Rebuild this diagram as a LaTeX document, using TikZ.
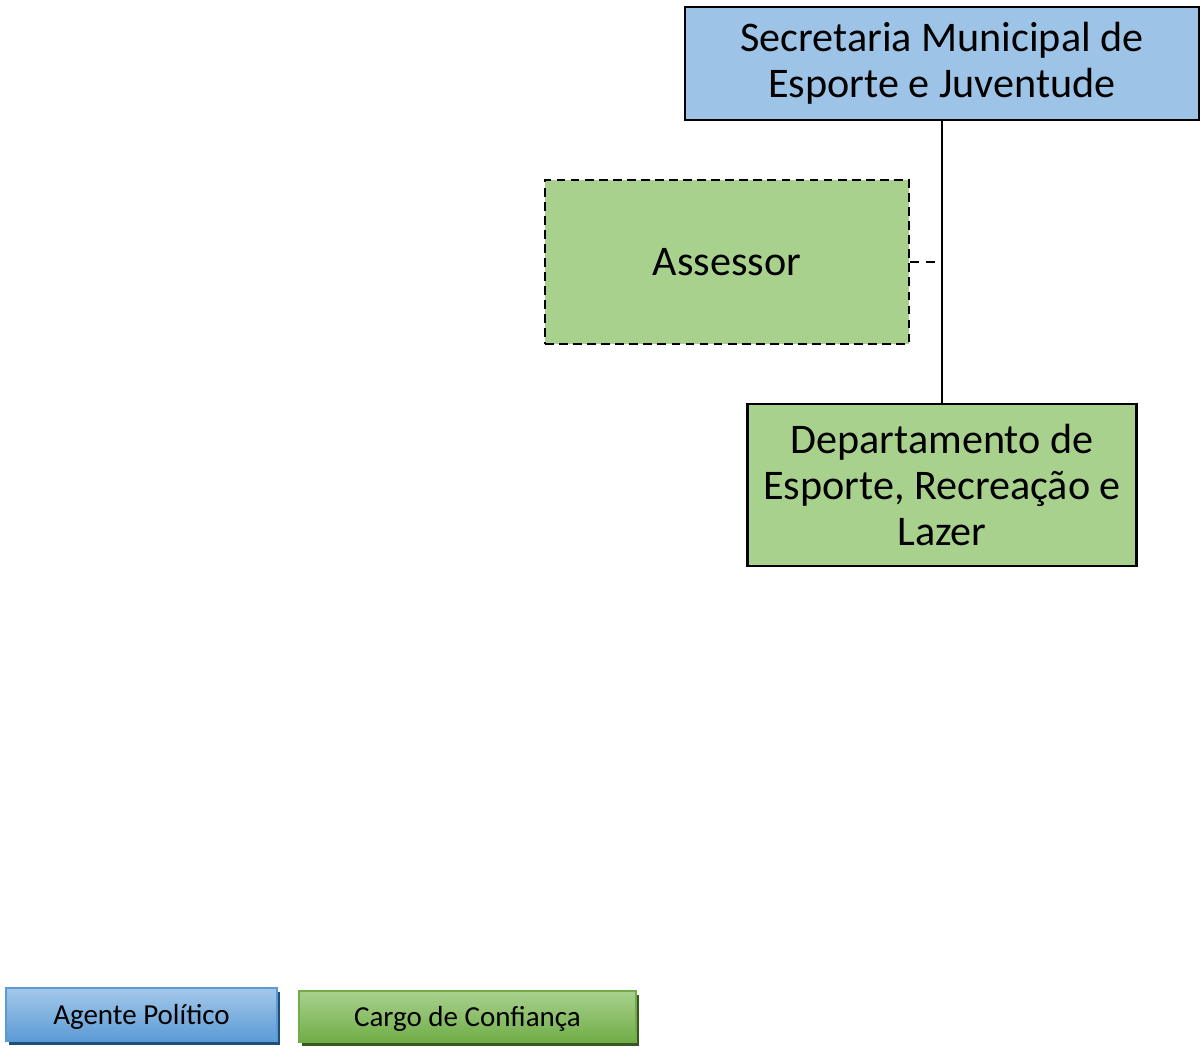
\documentclass[tikz,border=0pt]{standalone}
\usepackage{fontspec}
\setmainfont{Carlito}
\usepackage{tikz}
\usetikzlibrary{positioning, shadows}
\definecolor{secblue}{HTML}{9DC3E6}
\definecolor{depgreen}{HTML}{A9D18E}
\definecolor{legbluetop}{HTML}{A4C8EA}
\definecolor{legbluebot}{HTML}{5B9BD5}
\definecolor{legblueline}{HTML}{5B9BD5}
\definecolor{legblueshadow}{HTML}{1F4E79}
\definecolor{leggreentop}{HTML}{A9D18E}
\definecolor{leggreenbot}{HTML}{70AD47}
\definecolor{leggreenline}{HTML}{70AD47}
\definecolor{leggreenshadow}{HTML}{385723}

\begin{document}
\begin{tikzpicture}[every node/.style={font=\fontsize{24}{26}\selectfont}]
  \tikzstyle{cargo} = [rectangle, text centered, align=center, draw=black, line width=1.25pt]
  \tikzstyle{legenda} = [rectangle, text centered, line width=1pt, text depth=0pt, font=\fontsize{16.5}{19}\selectfont]
  \tikzstyle{linha} = [line width=1.25pt]

  \useasboundingbox (0,0) rectangle (24.04,-20.96);

  \node (sec) [cargo, fill=secblue, minimum width=10.28cm, minimum height=2.26cm] at (18.84,-1.27) {Secretaria Municipal de\\Esporte e Juventude};
  \node (ass) [cargo, fill=depgreen, dash pattern=on 5pt off 3pt, minimum width=7.28cm, minimum height=3.28cm] at (14.54,-5.24) {Assessor};
  \node (dep) [cargo, fill=depgreen, minimum width=7.78cm, minimum height=3.24cm] at (18.84,-9.70) {Departamento de\\Esporte, Recreação e\\Lazer};
  \coordinate (juncao) at (sec.south |- ass.east);

  \draw [linha] (sec) -- (dep);
  \draw [linha, dash pattern=on 5pt off 4pt] (ass) -- (juncao);

  % legenda
  \node (agente) [legenda, draw=legblueline, top color=legbluetop, bottom color=legbluebot,
    drop shadow={shadow xshift=0.06cm, shadow yshift=-0.07cm, fill=legblueshadow, opacity=1},
    minimum width=5.42cm, minimum height=1.06cm] at (2.83,-20.29) {Agente Político};
  \node (confianca) [legenda, draw=leggreenline, top color=leggreentop, bottom color=leggreenbot,
    drop shadow={shadow xshift=0.06cm, shadow yshift=-0.07cm, fill=leggreenshadow, opacity=1},
    minimum width=6.74cm, minimum height=1.02cm] at (9.35,-20.33) {Cargo de Confiança};
\end{tikzpicture}
\end{document}
